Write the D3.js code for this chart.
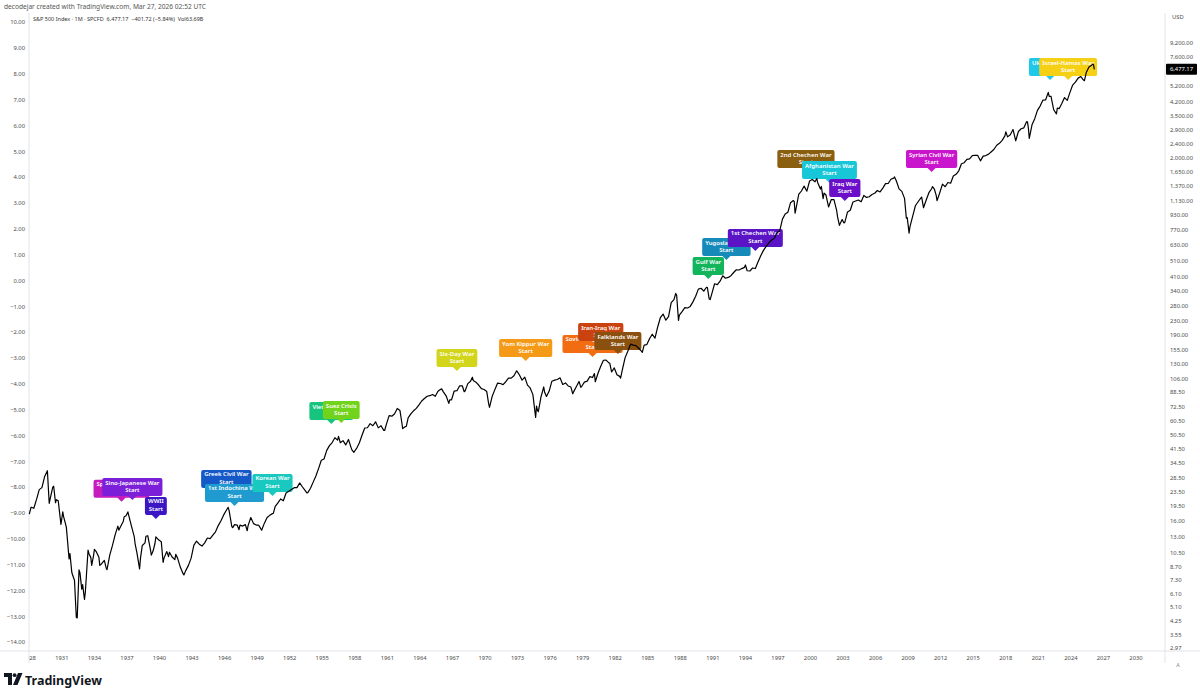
<!DOCTYPE html>
<html>
<head>
<meta charset="utf-8">
<script src="https://cdn.jsdelivr.net/npm/d3@7"></script>
<style>
  body { margin: 0; background: #fff; }
  svg { font-family: "Noto Sans", "Open Sans", sans-serif; }
</style>
</head>
<body>
<div id="vis"></div>
<script>
// S&P 500 quarterly closes (Mar, Jun, Sep, Dec)
const START_YEAR = 1928;
const closes1920s = [19.28, 19.00, 21.38, 24.35, 25.00, 29.00, 31.30, 21.45];
const closes1930s = [
  25.14, 20.46, 21.00, 15.34, 17.00, 14.80, 9.71, 8.12,
  7.30, 4.43, 8.08, 6.89, 6.23, 10.91, 9.90, 10.10,
  10.70, 9.90, 9.10, 9.50, 8.40, 10.20, 11.60, 13.40,
  15.00, 14.90, 16.00, 17.20, 17.30, 15.00, 13.10, 10.55,
  8.50, 11.60, 12.00, 13.20, 11.00, 10.80, 13.00, 12.50
];
const closes1940s = [
  12.20, 9.80, 10.70, 10.60, 9.95, 9.60, 9.80, 8.70,
  8.00, 8.30, 8.90, 9.80, 11.60, 12.30, 11.80, 11.50,
  12.00, 12.80, 12.70, 13.30, 13.90, 15.10, 16.10, 17.40,
  18.50, 18.40, 14.90, 15.30, 15.20, 15.20, 15.00, 15.30,
  15.10, 16.80, 15.50, 15.20, 15.10, 14.20, 15.60, 16.80
];
const closes1950s = [
  17.30, 17.70, 19.50, 20.40, 21.50, 21.00, 23.30, 23.80,
  24.40, 25.00, 25.00, 26.60, 25.30, 24.10, 23.40, 24.80,
  26.90, 29.20, 32.30, 36.00, 36.60, 41.00, 43.70, 45.50,
  48.50, 47.00, 45.40, 46.70, 44.10, 47.40, 42.40, 40.00,
  42.10, 45.20, 50.10, 55.20, 55.40, 58.50, 56.90, 59.90
];
const closes1960s = [
  55.30, 56.90, 53.50, 58.10, 65.10, 64.60, 66.70, 71.60,
  69.60, 54.80, 56.30, 63.10, 66.60, 69.40, 71.70, 75.00,
  79.00, 81.70, 84.20, 84.80, 86.20, 84.10, 90.00, 92.40,
  89.20, 84.70, 76.60, 80.30, 90.20, 90.60, 96.70, 96.50,
  90.20, 99.60, 102.70, 103.90, 101.50, 97.70, 93.10, 92.10
];
const closes1970s = [
  89.60, 72.70, 84.20, 92.20, 100.30, 99.70, 98.30, 102.10,
  107.20, 107.10, 110.60, 118.10, 112.00, 104.30, 108.40, 97.60,
  94.00, 86.00, 63.50, 68.60, 83.40, 95.20, 83.90, 90.20,
  102.80, 104.30, 105.20, 107.50, 98.40, 100.50, 96.50, 95.10,
  89.20, 95.50, 102.50, 96.10, 101.60, 102.90, 109.30, 107.90
];
const closes1980s = [
  102.10, 114.20, 125.50, 135.80, 136.00, 131.20, 116.20, 122.60,
  112.00, 109.60, 120.40, 140.60, 153.00, 168.10, 166.10, 164.90,
  159.20, 153.20, 166.10, 167.20, 180.70, 191.90, 182.10, 211.30,
  238.90, 250.80, 231.30, 242.20, 291.70, 304.00, 321.80, 247.10,
  258.90, 273.50, 271.90, 277.70, 294.90, 318.00, 349.20, 353.40
];
const closes1990s = [
  339.90, 358.00, 306.10, 330.20, 375.20, 371.20, 387.90, 417.10,
  403.70, 408.10, 417.80, 435.70, 451.70, 450.50, 458.90, 466.50,
  445.80, 444.30, 462.70, 459.30, 500.70, 544.80, 584.40, 615.90,
  645.50, 670.60, 687.30, 740.70, 757.10, 885.10, 947.30, 970.40,
  1101.80, 1133.80, 1017.00, 1229.20, 1286.40, 1372.70, 1282.70, 1469.30
];
const closes2000s = [
  1498.60, 1454.60, 1436.50, 1320.30, 1160.30, 1224.40, 1040.90, 1148.10,
  1147.40, 989.80, 815.30, 879.80, 848.20, 974.50, 996.00, 1111.90,
  1126.20, 1140.80, 1114.60, 1211.90, 1180.60, 1191.30, 1228.80, 1248.30,
  1294.80, 1270.20, 1335.90, 1418.30, 1420.90, 1503.40, 1526.80, 1468.40,
  1322.70, 1280.00, 1166.40, 903.30, 797.90, 919.30, 1057.10, 1115.10
];
const closes2010s = [
  1169.40, 1030.70, 1141.20, 1257.60, 1325.80, 1320.60, 1131.40, 1257.60,
  1408.50, 1362.20, 1440.70, 1426.20, 1569.20, 1606.30, 1681.60, 1848.40,
  1872.30, 1960.20, 1972.30, 2058.90, 2067.90, 2063.10, 1920.00, 2043.90,
  2059.70, 2098.90, 2168.30, 2238.80, 2362.70, 2423.40, 2519.40, 2673.60,
  2640.90, 2718.40, 2914.00, 2506.90, 2834.40, 2941.80, 2976.70, 3230.80
];
const closes2020s = [
  2584.60, 3100.30, 3363.00, 3756.10, 3972.90, 4297.50, 4307.50, 4766.20,
  4530.40, 3785.40, 3585.60, 3839.50, 4109.30, 4450.40, 4288.10, 4769.80,
  5254.40, 5460.50, 5762.50, 5881.60, 5611.90, 6205.00, 6688.50, 6845.50
];

// extra monthly closes at turning points
const extraMonths = ["1928-01", "1929-11", "1930-04", "1930-07", "1931-02", "1931-10", "1932-01",
  "1932-05", "1932-08", "1932-11", "1933-02", "1933-07", "1933-10", "1934-01", "1934-07",
  "1935-02", "1936-04", "1936-10", "1937-02", "1937-10", "1938-04", "1938-10", "1939-04",
  "1939-08", "1940-05", "1940-11", "1941-07", "1942-04", "1943-07", "1946-05", "1946-10",
  "1947-05", "1948-02", "1949-02", "1950-07", "1953-08", "1956-07", "1957-10", "1960-10",
  "1962-05", "1962-10", "1966-01", "1966-10", "1968-02", "1968-11", "1970-05", "1973-01",
  "1974-10", "1974-11", "1975-07", "1978-02", "1978-11", "1980-02", "1981-07", "1982-07",
  "1984-07", "1987-08", "1987-11", "1990-07", "1990-10", "1994-01", "1998-07", "1998-08",
  "2000-08", "2001-01", "2001-04", "2002-07", "2003-02", "2007-10", "2008-11", "2009-02",
  "2010-04", "2011-04", "2011-08", "2018-01", "2020-01", "2020-02", "2022-01", "2022-10",
  "2025-04", "2026-01", "2026-02", "2026-03"];
const extraCloses = [17.57, 20.30, 25.46, 21.30, 18.11, 10.40, 7.80,
  4.47, 8.39, 6.49, 5.66, 10.40, 8.90, 11.00, 8.90,
  8.60, 14.20, 17.00, 18.11, 11.90, 9.80, 13.10, 10.20,
  11.90, 9.27, 10.00, 10.30, 7.84, 12.10, 19.25, 14.70,
  14.30, 14.10, 15.20, 17.80, 23.30, 49.40, 41.10, 53.40,
  59.60, 56.50, 92.88, 80.20, 89.40, 108.37, 76.55, 116.03,
  73.90, 69.97, 88.75, 87.00, 94.70, 113.70, 130.90, 107.10,
  150.70, 329.80, 230.30, 356.20, 304.00, 481.60, 1120.70, 957.30,
  1517.70, 1366.00, 1249.50, 911.60, 841.20, 1549.40, 896.20, 735.10,
  1186.70, 1363.60, 1218.90, 2823.80, 3225.50, 2954.20, 4515.60, 3872.00,
  5569.10, 6939.00, 6878.90, 6477.17];

// war annotations
const warNames = ["Spanish Civil War", "Sino-Japanese War", "WWII", "Greek Civil War", "1st Indochina War",
  "Korean War", "Vietnam War", "Suez Crisis", "Six-Day War", "Yom Kippur War", "Soviet-Afghan War",
  "Iran-Iraq War", "Falklands War", "Gulf War", "Yugoslav Wars", "1st Chechen War", "2nd Chechen War",
  "Afghanistan War", "Iraq War", "Syrian Civil War", "Ukraine War", "Israel-Hamas War"];
const warMonths = ["1936-07", "1937-07", "1939-09", "1946-03", "1946-12", "1950-06", "1955-11", "1956-10",
  "1967-06", "1973-10", "1979-12", "1980-09", "1982-04", "1990-08", "1992-04", "1994-12", "1999-08",
  "2001-10", "2003-03", "2011-03", "2022-02", "2023-10"];
const warPrices = [20.7, 21.2, 16.5, 23.6, 19.6, 22.4, 58.2, 59.0, 117.7, 134.4, 141.8, 166.2, 147.5,
  399.4, 513.6, 579.7, 1654, 1429, 1126, 1654, 5612, 5612];
const warColors = ["#c51bbf", "#7c1fd9", "#3b16c4", "#1559c9", "#1f9bd0", "#19c9c0", "#16c47e", "#71d31b",
  "#d2d51a", "#f59a16", "#f26d12", "#c9420f", "#8a5010", "#12b45c", "#168ab8", "#5a14c6", "#8b5f10",
  "#17c7d8", "#6b0fc9", "#c915cb", "#1ec8ea", "#f6d014"];

// axis tick values
const leftTicks = [10, 9, 8, 7, 6, 5, 4, 3, 2, 1, 0, -1, -2, -3, -4, -5, -6, -7, -8, -9, -10, -11, -12, -13, -14];
const rightTicks = [2.97, 3.55, 4.25, 5.10, 6.10, 7.30, 8.70, 10.50, 13.00, 16.00, 19.50, 23.50, 28.50,
  34.50, 41.50, 50.50, 60.50, 72.50, 88.50, 106, 130, 155, 190, 230, 280, 340, 410, 510, 630, 770, 930,
  1130, 1370, 1650, 2000, 2400, 2900, 3500, 4200, 5200, 7600, 9200];
const yearTicks = [1928, 1931, 1934, 1937, 1940, 1943, 1946, 1949, 1952, 1955, 1958, 1961, 1964, 1967,
  1970, 1973, 1976, 1979, 1982, 1985, 1988, 1991, 1994, 1997, 2000, 2003, 2006, 2009, 2012, 2015, 2018,
  2021, 2024, 2027, 2030];
const LAST_PRICE = 6477.17;

const WIDTH = 1200, HEIGHT = 692;
const PLOT = {left: 29, right: 1165, top: 13, bottom: 651};
const GREY = '#e0e3eb', TXT = '#4a4a4a';

const parseMonth = d3.timeParse('%Y-%m');

const quarterly = [closes1920s, closes1930s, closes1940s, closes1950s, closes1960s,
  closes1970s, closes1980s, closes1990s, closes2000s, closes2010s, closes2020s].flat();
let data = quarterly.map((c, i) => ({
  date: new Date(START_YEAR + Math.floor(i / 4), 2 + 3 * (i % 4), 1),
  close: c
}));
extraMonths.forEach((m, i) => data.push({date: parseMonth(m), close: extraCloses[i]}));
data.sort((a, b) => a.date - b.date);

const X_SCALE = d3.scaleTime()
  .domain([new Date(1928, 0, 1), new Date(2030, 0, 1)])
  .range([29.3, 1136]);
const Y_SCALE = d3.scaleLog()
  .domain([2.97, 9200])
  .range([648, 42.9]);
const LEFT_SCALE = d3.scaleLinear()
  .domain([-14, 10])
  .range([642.4, 22.4]);

const svg = d3.select('#vis').append('svg')
  .attr('width', WIDTH).attr('height', HEIGHT);

svg.append('rect').attr('width', WIDTH).attr('height', HEIGHT).attr('fill', '#fff');

// header
svg.append('text').attr('x', 4).attr('y', 8.5)
  .attr('font-size', 6.6).attr('fill', '#555')
  .text('decodejar created with TradingView.com, Mar 27, 2026 02:52 UTC');

svg.append('text').attr('x', 33).attr('y', 21)
  .attr('font-size', 5.5).attr('fill', '#333')
  .text('S&P 500 Index · 1M · SPCFD  6,477.17  \u2212401.72 (\u22125.84%)  Vol63.69B')
  .style('white-space', 'pre');

// frame lines
svg.append('line').attr('x1', PLOT.left).attr('x2', PLOT.left)
  .attr('y1', PLOT.top).attr('y2', PLOT.bottom + 12).attr('stroke', GREY);
svg.append('line').attr('x1', PLOT.right).attr('x2', PLOT.right)
  .attr('y1', PLOT.top).attr('y2', PLOT.bottom + 12).attr('stroke', GREY);
svg.append('line').attr('x1', 0).attr('x2', WIDTH)
  .attr('y1', PLOT.bottom).attr('y2', PLOT.bottom).attr('stroke', GREY);

// left scale
svg.append('g').selectAll('text').data(leftTicks).enter().append('text')
  .attr('x', 25).attr('y', d => LEFT_SCALE(d) + 2)
  .attr('text-anchor', 'end').attr('font-size', 5.8).attr('fill', TXT)
  .text(d => d3.format('.2f')(d).replace('-', '\u2212'));

// right scale
svg.append('text').attr('x', 1172).attr('y', 19)
  .attr('font-size', 5.8).attr('fill', TXT).text('USD');
svg.append('g').selectAll('text').data(rightTicks).enter().append('text')
  .attr('x', 1170).attr('y', d => Y_SCALE(d) + 2)
  .attr('font-size', 5.8).attr('fill', TXT)
  .text(d => d3.format(',.2f')(d));

// time scale, clipped behind the left scale
svg.append('clipPath').attr('id', 'tclip').append('rect')
  .attr('x', PLOT.left).attr('y', PLOT.bottom).attr('width', PLOT.right - PLOT.left).attr('height', 20);
svg.append('g').attr('clip-path', 'url(#tclip)')
  .selectAll('text').data(yearTicks).enter().append('text')
  .attr('x', d => X_SCALE(new Date(d, 0, 1))).attr('y', 660)
  .attr('text-anchor', 'middle').attr('font-size', 5.8).attr('fill', TXT)
  .text(d => d);
svg.append('text').attr('x', 1178).attr('y', 667)
  .attr('text-anchor', 'middle').attr('font-size', 5.5).attr('fill', '#888').text('A');

// war callouts
const events = warNames.map((n, i) => ({
  name: n, date: parseMonth(warMonths[i]), price: warPrices[i], color: warColors[i]
}));
const plotG = svg.append('g');
const callouts = plotG.selectAll('.callout').data(events).enter().append('g')
  .attr('class', 'callout')
  .attr('transform', d => 'translate(' + X_SCALE(d.date) + ',' + Y_SCALE(d.price) + ')');

callouts.append('path').attr('class', 'box').attr('fill', d => d.color);
callouts.append('text').attr('y', -15.5).text(d => d.name);
callouts.append('text').attr('y', -8).text('Start');
callouts.selectAll('text')
  .attr('text-anchor', 'middle').attr('font-size', 6).attr('font-weight', 600).attr('fill', '#fff');

callouts.each(function () {
  const g = d3.select(this);
  const w = g.select('text').node().getComputedTextLength() + 6;
  const h = 18, p = 4, r = 2;
  const x0 = -w / 2, x1 = w / 2, yb = -p, yt = -p - h;
  const path = 'M' + (x0 + r) + ',' + yt + ' H' + (x1 - r) + ' Q' + x1 + ',' + yt + ' ' + x1 + ',' + (yt + r) +
    ' V' + (yb - r) + ' Q' + x1 + ',' + yb + ' ' + (x1 - r) + ',' + yb +
    ' H' + p + ' L0,0 L' + (-p) + ',' + yb +
    ' H' + (x0 + r) + ' Q' + x0 + ',' + yb + ' ' + x0 + ',' + (yb - r) +
    ' V' + (yt + r) + ' Q' + x0 + ',' + yt + ' ' + (x0 + r) + ',' + yt + ' Z';
  g.select('.box').attr('d', path);
});

// price line
const line = d3.line()
  .x(d => X_SCALE(d.date))
  .y(d => Y_SCALE(d.close));
plotG.append('path').datum(data)
  .attr('d', line)
  .attr('fill', 'none').attr('stroke', '#000').attr('stroke-width', 1.2)
  .attr('stroke-linejoin', 'round');

// last price tag
svg.append('rect').attr('x', 1166).attr('y', Y_SCALE(LAST_PRICE) - 5.5)
  .attr('width', 31).attr('height', 11).attr('rx', 1).attr('fill', '#000');
svg.append('text').attr('x', 1181.5).attr('y', Y_SCALE(LAST_PRICE) + 2)
  .attr('text-anchor', 'middle').attr('font-size', 5.8).attr('fill', '#fff')
  .text(d3.format(',.2f')(LAST_PRICE));

// TradingView logo
const logo = svg.append('g').attr('fill', '#131722');
logo.append('path').attr('d', 'M4,673 H12 V685 H8 V677 H4 Z');
logo.append('circle').attr('cx', 14.6).attr('cy', 675.2).attr('r', 1.9);
logo.append('path').attr('d', 'M18,673 H22.5 L17.5,685 H13 Z');
logo.append('text').attr('x', 25).attr('y', 684.5)
  .attr('font-size', 12.5).attr('font-weight', 700).text('TradingView');
</script>
</body>
</html>
